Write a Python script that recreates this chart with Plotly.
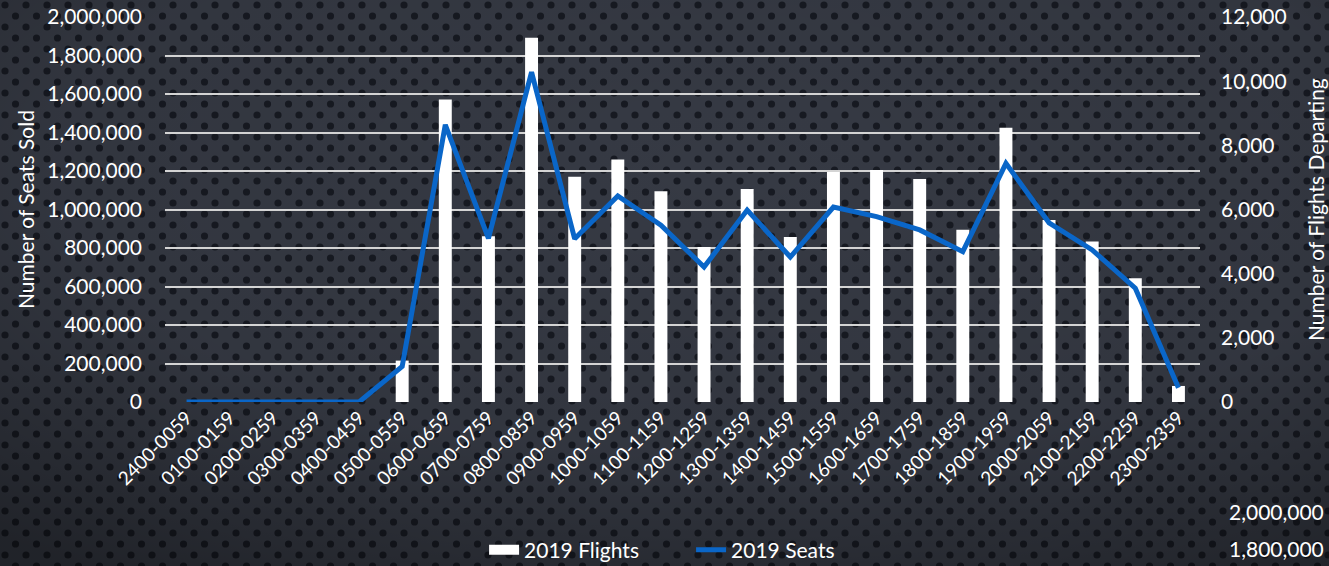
import base64
import plotly.graph_objects as go

categories = ["2400-0059", "0100-0159", "0200-0259", "0300-0359", "0400-0459", "0500-0559",
              "0600-0659", "0700-0759", "0800-0859", "0900-0959", "1000-1059", "1100-1159",
              "1200-1259", "1300-1359", "1400-1459", "1500-1559", "1600-1659", "1700-1759",
              "1800-1859", "1900-1959", "2000-2059", "2100-2159", "2200-2259", "2300-2359"]

flights_2019 = [0, 0, 0, 0, 0, 1290, 9430, 5170, 11350, 7020, 7560, 6570,
                4830, 6640, 5140, 7170, 7230, 6950, 5370, 8550, 5670, 5000, 3860, 500]

seats_2019 = [0, 0, 0, 0, 0, 185000, 1440000, 850000, 1714000, 848000, 1070000, 919000,
              701000, 997000, 753000, 1013000, 963000, 894000, 781000, 1240000, 931000, 790000,
              591000, 74000]

left_ticks = [0, 200000, 400000, 600000, 800000, 1000000, 1200000, 1400000, 1600000, 1800000, 2000000]
right_ticks = [0, 2000, 4000, 6000, 8000, 10000, 12000]
stray_labels = ["2,000,000", "1,800,000"]

FONT = "Lato"
TXT = "#ffffff"
W, H = 1329, 566
L, R, T, B = 165, 129, 17, 164

svg = f'''<svg xmlns="http://www.w3.org/2000/svg" width="{W}" height="{H}" viewBox="0 0 {W} {H}">
<defs>
<pattern id="p" width="21" height="22" patternUnits="userSpaceOnUse">
<rect width="21" height="22" fill="#363a44"/>
<circle cx="5" cy="5" r="3.6" fill="#171a22"/>
<circle cx="15.5" cy="16" r="3.6" fill="#171a22"/>
</pattern>
<radialGradient id="g" cx="0.55" cy="0.3" r="0.85">
<stop offset="0" stop-color="#000" stop-opacity="0"/>
<stop offset="0.6" stop-color="#000" stop-opacity="0.08"/>
<stop offset="1" stop-color="#000" stop-opacity="0.4"/>
</radialGradient>
</defs>
<rect width="{W}" height="{H}" fill="url(#p)"/>
<rect width="{W}" height="{H}" fill="url(#g)"/>
</svg>'''
bg = "data:image/svg+xml;base64," + base64.b64encode(svg.encode()).decode()

pw, ph = W - L - R, H - T - B

fig = go.Figure()
fig.add_trace(go.Bar(x=categories, y=flights_2019, name="2019 Flights", showlegend=False,
                     marker=dict(color="#ffffff", line=dict(width=0)), yaxis="y"))
# legend-only entry so the bar key is drawn as a wide white block like the reference
fig.add_trace(go.Scatter(x=[None], y=[None], name="2019 Flights", mode="lines",
                         line=dict(color="#ffffff", width=14), yaxis="y", hoverinfo="skip"))
fig.add_trace(go.Scatter(x=categories, y=seats_2019, name="2019 Seats", mode="lines",
                         line=dict(color="#0a66c8", width=5), yaxis="y2"))

fig.update_layout(
    width=W, height=H,
    margin=dict(l=L, r=R, t=T, b=B, autoexpand=False),
    paper_bgcolor="#2c3038",
    plot_bgcolor="rgba(0,0,0,0)",
    font=dict(family=FONT, color=TXT, size=20),
    bargap=0.7,
    showlegend=True,
    legend=dict(orientation="h", xref="container", yref="container",
                x=0.52, xanchor="center", y=(H - 550) / H, yanchor="middle",
                font=dict(size=21, color=TXT), bgcolor="rgba(0,0,0,0)", traceorder="normal",
                entrywidth=162, entrywidthmode="pixels", tracegroupgap=0),
    xaxis=dict(type="category", tickangle=-45, tickfont=dict(size=19, color=TXT),
               showgrid=False, showline=False, ticks="", zeroline=False, automargin=False),
    yaxis=dict(side="right", range=[0, 12000], tickvals=right_ticks, tickformat=",",
               showgrid=False, zeroline=False, automargin=False,
               ticklabelstandoff=20, tickfont=dict(size=21, color=TXT)),
    yaxis2=dict(side="left", overlaying="y", range=[0, 2000000], tickvals=left_ticks,
                tickformat=",", showgrid=True, gridcolor="#d4d4d4", gridwidth=2,
                zeroline=False, automargin=False,
                ticklabelstandoff=22, tickfont=dict(size=21, color=TXT)),
    images=[dict(source=bg, xref="paper", yref="paper",
                 x=-L / pw, y=1 + T / ph, sizex=W / pw, sizey=H / ph,
                 xanchor="left", yanchor="top", sizing="stretch", layer="below")],
    annotations=[
        dict(text="Number of Seats Sold", xref="paper", yref="paper",
             x=-140 / pw, y=(402 - 210) / ph, textangle=-90, showarrow=False,
             font=dict(size=21, color=TXT), xanchor="center", yanchor="middle"),
        dict(text="Number of Flights Departing", xref="paper", yref="paper",
             x=1 + 115 / pw, y=(402 - 210) / ph, textangle=-90, showarrow=False,
             font=dict(size=21, color=TXT), xanchor="center", yanchor="middle"),
        dict(text=stray_labels[0], xref="paper", yref="paper",
             x=(W - 3 - L) / pw, y=-(512 - 402) / ph, showarrow=False,
             font=dict(size=21, color=TXT), xanchor="right", yanchor="middle"),
        dict(text=stray_labels[1], xref="paper", yref="paper",
             x=(W - 3 - L) / pw, y=-(548 - 402) / ph, showarrow=False,
             font=dict(size=21, color=TXT), xanchor="right", yanchor="middle"),
    ],
)

fig.write_html("out.html", config={"displayModeBar": False},
               post_script="document.body.style.margin='0';document.body.style.padding='0';"
                           "document.body.style.overflow='hidden';")
